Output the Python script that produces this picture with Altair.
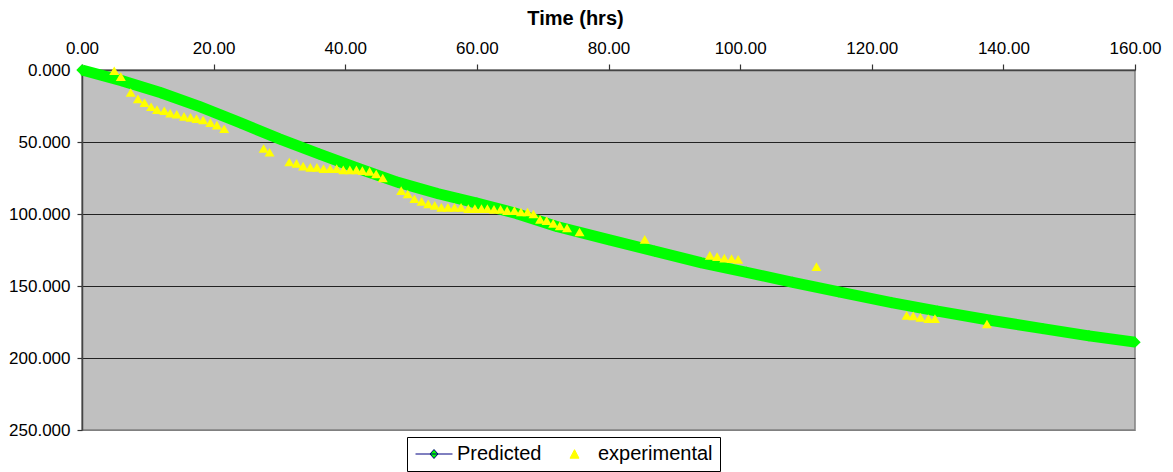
import altair as alt
import pandas as pd

# Predicted settlement curve (time in hours, depth)
pred_hrs = [0, 6, 12, 18, 24, 30, 36, 42, 48, 54, 60, 66, 72, 80, 87, 94,
            101, 108, 115, 123, 130, 138, 146, 153, 160]
pred_val = [0, 7.4, 15.8, 25.6, 36.6, 47.8, 58.2, 68.4, 78.0, 85.8, 92.4, 99.6,
            108.5, 117.8, 125.8, 133.7, 140.5, 147.4, 154.1, 161.5, 167.5,
            173.8, 179.6, 184.6, 189]

# Measured values
exp_hrs = [4.9, 5.9, 7.4, 8.5, 9.5, 10.5, 11.4, 12.5, 13.4, 14.4, 15.5, 16.5,
           17.4, 18.4, 19.5, 20.5, 21.6, 27.6, 28.5, 31.5, 32.6, 33.6, 34.7,
           35.7, 36.7, 37.7, 38.7, 39.7, 40.7, 41.7, 42.6, 43.7, 44.7, 45.7,
           48.5, 49.5, 50.5, 51.6, 52.6, 53.6, 54.6, 55.6, 56.6, 57.6, 58.7,
           59.7, 60.7, 61.6, 62.6, 63.6, 64.6, 65.7, 66.7, 67.7, 68.6, 69.6,
           70.6, 71.6, 72.6, 73.7, 75.6, 85.5, 95.4, 96.5, 97.6, 98.7, 99.7,
           111.6, 125.3, 126.3, 127.4, 128.6, 129.6, 137.5]
exp_val = [0.5, 4.6, 15.6, 20, 22.7, 25.5, 27.5, 28.3, 30, 30.7, 32.2, 32.9,
           33.8, 34.7, 36.6, 38.3, 40.8, 54.5, 57.1, 63.9, 64.8, 66.7, 67.6,
           67.6, 68.5, 68.5, 68.5, 69.4, 69.4, 69.4, 69.9, 70.4, 72.2, 75,
           83.8, 86.1, 89.4, 91.2, 93, 94, 95.4, 95.4, 95.4, 95.4, 96.3,
           96.3, 96.3, 96.3, 96.8, 96.8, 97.7, 97.7, 98.6, 98.6, 100, 103.7,
           104.6, 106.5, 108.3, 109.7, 112.5, 117.6, 128.7, 129.6, 130.6, 131,
           131.5, 136.6, 170.4, 170.8, 171.8, 172.7, 172.7, 176.4]

series_names = ["Predicted", "experimental"]
x_ticks = [0, 20, 40, 60, 80, 100, 120, 140, 160]
y_ticks = [0, 50, 100, 150, 200, 250]

FONT = "Liberation Sans"
GREEN = "#00FF00"
YELLOW = "#FFFF00"
NAVY = "#000080"

pred = pd.DataFrame({"hrs": pred_hrs, "val": pred_val})
exp = pd.DataFrame({"hrs": exp_hrs, "val": exp_val})
legend_df = pd.DataFrame({"series": series_names})

x_scale = alt.Scale(domain=[0, 160], nice=False)
y_scale = alt.Scale(domain=[0, 250], reverse=True, nice=False)

x_axis = alt.Axis(
    orient="top", values=x_ticks, format=".2f", title="Time (hrs)",
    titleFontSize=20, titleFontWeight="bold", titleFont=FONT, titleColor="black",
    titleX=493, titleY=-46, titleBaseline="alphabetic",
    labelFontSize=17, labelFont=FONT, labelColor="black", labelPadding=7,
    labelFlush=False, tickSize=6, tickColor="#333333", tickWidth=1.2,
    domainColor="#444444", domainWidth=1.5, grid=False,
)
y_axis = alt.Axis(
    values=y_ticks, format=".3f", title=None,
    labelFontSize=17, labelFont=FONT, labelColor="black", labelPadding=7,
    tickSize=5, tickColor="#333333", tickWidth=1.2,
    domainColor="#444444", domainWidth=1.5,
    grid=True, gridWidth=1.2,
    gridColor={"condition": {"test": "datum.value === 0 || datum.value === 250",
                             "value": "#808080"},
               "value": "#222222"},
)

# thick green band of the predicted series
band = alt.Chart(pred).mark_line(color=GREEN, strokeWidth=11, strokeCap="butt").encode(
    x=alt.X("hrs:Q", scale=x_scale, axis=x_axis),
    y=alt.Y("val:Q", scale=y_scale, axis=y_axis),
)
diamonds = alt.Chart(pred).mark_point(shape="diamond", filled=True, color=GREEN,
                                      size=130, opacity=1).encode(
    x="hrs:Q", y="val:Q",
)
triangles = alt.Chart(exp).mark_point(shape="triangle-up", filled=True, color=YELLOW,
                                      size=100, opacity=1).encode(
    x="hrs:Q", y="val:Q",
)

# legend symbols (unit = 7px): a line with a diamond, and a triangle
pred_symbol = "M-1.21,0L4.07,0M1.43,-0.64L2.0,0L1.43,0.64L0.86,0Z"
exp_symbol = "M1.36,-0.62L2.0,0.6L0.72,0.6Z"
leg = alt.Legend(
    orient="none", legendX=325, legendY=367, direction="horizontal", title=None,
    symbolSize=196, symbolStrokeWidth=1, symbolOpacity=1,
    labelFontSize=20, labelFont=FONT, labelColor="black", labelOffset=23,
    columnPadding=13, padding=7, strokeColor="black", fillColor="white",
    labelLimit=0,
)
legend_layer = alt.Chart(legend_df).mark_point(filled=True, clip=True, opacity=1).encode(
    x=alt.value(-80), y=alt.value(-80),
    shape=alt.Shape("series:N", scale=alt.Scale(domain=series_names,
                                                range=[pred_symbol, exp_symbol]),
                    legend=leg),
    fill=alt.Fill("series:N", scale=alt.Scale(domain=series_names,
                                              range=[GREEN, YELLOW]),
                  legend=leg),
    stroke=alt.Stroke("series:N", scale=alt.Scale(domain=series_names,
                                                  range=[NAVY, YELLOW]),
                      legend=leg),
)

chart = alt.layer(band, diamonds, triangles, legend_layer).properties(
    width=1053, height=360,
    padding={"left": 82, "top": 70, "right": 38, "bottom": 42},
    autosize=alt.AutoSizeParams(type="none"),
    background="white",
).configure_view(fill="#C0C0C0", stroke="#808080", strokeWidth=1.5)

chart.save("out.html", embed_options={"renderer": "svg", "actions": False})
